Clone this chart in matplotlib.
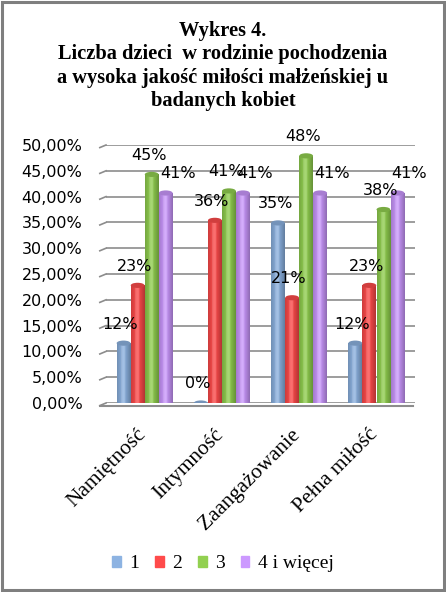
import matplotlib
matplotlib.use("Agg")
from matplotlib import pyplot as plt
from matplotlib.patches import Ellipse, Rectangle
from matplotlib.colors import to_rgb
from matplotlib.transforms import ScaledTranslation
import numpy as np

categories = ["Namiętność", "Intymność", "Zaangażowanie", "Pełna miłość"]
series_names = ["1", "2", "3", "4 i więcej"]
values = {
    "1": [11.6, 0.0, 34.9, 11.6],
    "2": [22.8, 35.4, 20.4, 22.8],
    "3": [44.3, 41.1, 47.9, 37.5],
    "4 i więcej": [40.7, 40.7, 40.7, 40.7],
}
labels = {
    "1": ["12%", "0%", "35%", "12%"],
    "2": ["23%", "36%", "21%", "23%"],
    "3": ["45%", "41%", "48%", "38%"],
    "4 i więcej": ["41%", "41%", "41%", "41%"],
}
colors = ["#8db3e2", "#ff4b4b", "#92d050", "#cc99ff"]
yticks = np.arange(0, 51, 5)

W, H = 446, 592
fig = plt.figure(figsize=(W / 100, H / 100), dpi=100)
fig.patch.set_facecolor("white")
fig.patches.append(Rectangle((0.0035, 0.003), 0.9925, 0.994, transform=fig.transFigure,
                             fill=False, edgecolor="#7f7f7f", linewidth=2.2))

title = ("Wykres 4.\nLiczba dzieci  w rodzinie pochodzenia\n"
         "a wysoka jakość miłości małżeńskiej u\nbadanych kobiet")
fig.text(0.5, 1 - 66 / H, title, ha="center", va="center", family="Liberation Serif",
         fontweight="bold", fontsize=14.7, linespacing=1.24)

ax = fig.add_axes([106 / W, 1 - 403 / H, 309 / W, 258 / H])
ax.set_xlim(-0.5, 3.5)
ax.set_ylim(0, 50)
for s in ax.spines.values():
    s.set_visible(False)
ax.set_yticks(yticks)
ax.set_yticklabels(["%d,00%%" % v for v in yticks], family="DejaVu Sans", fontsize=11.5)
ax.tick_params(axis="y", length=0, pad=17)
ax.set_xticks(range(len(categories)))
ax.set_xticklabels(categories, rotation=45, ha="right", rotation_mode="anchor",
                   family="Liberation Serif", fontsize=15.5)
ax.tick_params(axis="x", length=0, pad=16)
shift = ScaledTranslation(-0.08, 0, fig.dpi_scale_trans)
for t in ax.get_xticklabels():
    t.set_transform(t.get_transform() + shift)

# gridlines with small perspective stub on the left
for v in yticks:
    ax.axhline(v, color="#8c8c8c", lw=1.2, zorder=0)
    ax.plot([-0.58, -0.5], [v - 0.5, v], color="#8c8c8c", lw=1.2, clip_on=False, zorder=0)
ax.plot([-0.58, 3.47], [-0.5, -0.5], color="#8c8c8c", lw=1.5, clip_on=False, zorder=0)

bw = 0.182
offsets = (np.arange(4) - 1.5) * bw
shade = np.concatenate([np.linspace(0.8, 1.0, 30), np.linspace(1.0, 0.7, 34)])
for i, name in enumerate(series_names):
    x = np.arange(len(categories)) + offsets[i]
    bars = ax.bar(x, values[name], bw * 0.98, color=colors[i], edgecolor="none", zorder=2)
    base = np.array(to_rgb(colors[i]))
    grad = np.clip(base[None, :] * shade[:, None] +
                   np.where(shade[:, None] > 0.93, (1 - base[None, :]) * 0.2, 0), 0, 1)
    img = grad[None, :, :]
    for b, xv, v, lab in zip(bars, x, values[name], labels[name]):
        im = ax.imshow(img, extent=[b.get_x(), b.get_x() + b.get_width(), 0, max(v, 0.01)],
                       aspect="auto", zorder=2, interpolation="bilinear")
        im.set_clip_path(b)
        cap = np.clip(base * 0.82, 0, 1)
        ax.add_patch(Ellipse((xv, v), bw * 0.98, 1.0, facecolor=cap, edgecolor="none", zorder=3))
        dx = 12 if i == 3 else -3
        ax.annotate(lab, (xv, v), xytext=(dx, 19), textcoords="offset pixels",
                    ha="center", va="center", family="DejaVu Sans", fontsize=11.5, zorder=4)

ax.set_xlim(-0.5, 3.5)
ax.set_ylim(0, 50)

handles = [Rectangle((0, 0), 1, 1, color=c) for c in colors]
fig.legend(handles, series_names, loc="center", bbox_to_anchor=(0.5, 1 - 564 / H), ncol=4,
           frameon=False, prop={"family": "Liberation Serif", "size": 14},
           handlelength=0.45, handleheight=0.45, handletextpad=0.45, columnspacing=0.8)

fig.savefig("out.png", dpi=100)
